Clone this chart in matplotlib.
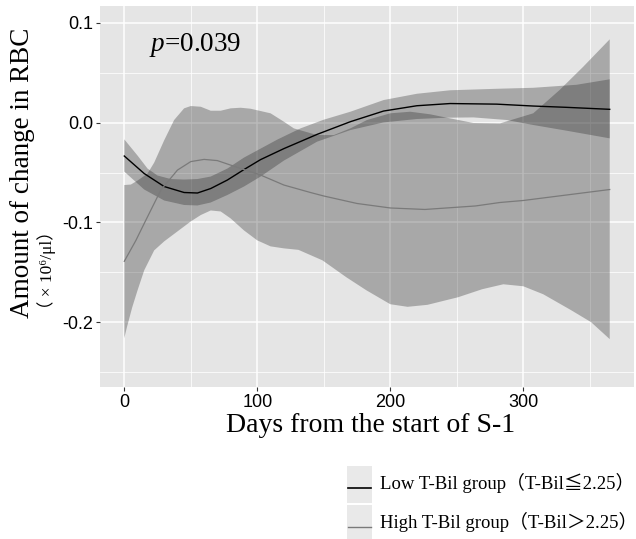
import matplotlib
matplotlib.use("Agg")
import matplotlib.pyplot as plt
import matplotlib.patches as patches
from matplotlib.lines import Line2D
import numpy as np

plt.rcParams['mathtext.fontset'] = 'custom'
plt.rcParams['mathtext.rm'] = 'Liberation Serif'
plt.rcParams['mathtext.it'] = 'Liberation Serif:italic'

SERIF = ['Liberation Serif', 'Noto Sans CJK JP', 'DejaVu Serif']
SANS = ['Liberation Sans', 'DejaVu Sans']

# 低T-Bil群 平滑曲线与置信带
low_days = [0, 15, 30, 45, 55, 65, 77.5, 90, 102.5, 120, 145, 170, 195, 220, 245, 280, 307.5, 332.5, 365]
low_mean = [-0.0334, -0.051, -0.064, -0.070, -0.0705, -0.066, -0.0575, -0.047, -0.037, -0.026,
            -0.0117, 0.001, 0.0117, 0.017, 0.0192, 0.0186, 0.0167, 0.0154, 0.0134]

low_up_days = [0, 10, 17.5, 25, 35, 45, 55, 65, 77.5, 90, 102.5, 115, 132.5, 150, 170, 195, 220, 245,
               280, 307.5, 340, 365]
low_up = [-0.0167, -0.033, -0.046, -0.053, -0.0565, -0.057, -0.0565, -0.054, -0.046, -0.035, -0.026,
          -0.017, -0.0057, 0.003, 0.011, 0.0227, 0.029, 0.0325, 0.034, 0.035, 0.038, 0.0435]

low_lo_days = [0, 15, 30, 45, 55, 65, 77.5, 90, 102.5, 120, 145, 170, 195, 220, 242.5, 262.5, 287.5,
               307.5, 332.5, 365]
low_lo = [-0.049, -0.067, -0.078, -0.0825, -0.083, -0.080, -0.0725, -0.064, -0.054, -0.038, -0.019,
          -0.0074, 0.0003, 0.0037, 0.005, 0.0053, 0.0027, -0.0023, -0.008, -0.0157]

# 高T-Bil群
high_days = [0, 8.75, 15, 27.5, 40, 50, 60, 70, 85, 102.5, 120, 140, 150, 175, 200, 226, 264, 282.5, 300, 365]
high_mean = [-0.139, -0.118, -0.101, -0.0675, -0.0475, -0.039, -0.0368, -0.038, -0.0448, -0.0525,
             -0.0625, -0.070, -0.0735, -0.081, -0.0855, -0.087, -0.0835, -0.080, -0.078, -0.067]

high_up_days = [0, 5, 10, 17.5, 22.5, 30, 37.5, 45, 50, 57.5, 65, 72.5, 80, 87.5, 95, 110, 120, 127.5,
                145, 157.5, 170, 182.5, 200, 215, 230, 242.5, 262.5, 282.5, 307.5, 327.5, 345, 365]
high_up = [-0.0625, -0.062, -0.058, -0.051, -0.040, -0.0177, 0.0027, 0.0144, 0.0167, 0.016, 0.012,
           0.012, 0.0144, 0.015, 0.014, 0.0094, 0.001, -0.0057, -0.0124, -0.0124, -0.0057, 0.0027,
           0.0094, 0.011, 0.0084, 0.005, -0.0003, -0.0007, 0.0094, 0.033, 0.056, 0.0836]

high_lo_days = [0, 2, 6, 10, 15, 22.5, 30, 40, 50, 57.5, 65, 72.5, 80, 90, 100, 110, 120, 131, 149, 167,
                182, 200, 213, 228, 251, 269, 285, 300, 315, 336, 351, 365]
high_lo = [-0.216, -0.205, -0.185, -0.168, -0.148, -0.128, -0.119, -0.109, -0.099, -0.0926, -0.088,
           -0.089, -0.096, -0.108, -0.118, -0.124, -0.126, -0.1275, -0.138, -0.155, -0.168, -0.182,
           -0.1846, -0.1826, -0.175, -0.167, -0.162, -0.164, -0.172, -0.188, -0.200, -0.217]

x_major = [0, 100, 200, 300]
x_minor = [50, 150, 250, 350]
y_major = [-0.2, -0.1, 0.0, 0.1]
y_minor = [-0.25, -0.15, -0.05, 0.05]
y_labels = ['-0.2', '-0.1', '0.0', '0.1']

legend_labels = ['Low T-Bil group（T-Bil≦2.25）', 'High T-Bil group（T-Bil＞2.25）']
line_colors = ['#000000', '#7a7a7a']

W, H = 636, 539
fig = plt.figure(figsize=(W / 100, H / 100), dpi=100)
ax = fig.add_axes([100 / W, 1 - 387 / H, 534 / W, 381 / H])
ax.set_facecolor('#e5e5e5')
for s in ax.spines.values():
    s.set_visible(False)

# 网格
ax.set_xticks(x_major)
ax.set_xticks(x_minor, minor=True)
ax.set_yticks(y_major)
ax.set_yticks(y_minor, minor=True)
ax.set_yticklabels(y_labels)
ax.grid(which='major', color='white', linewidth=1.1)
ax.grid(which='minor', color='white', linewidth=0.55)
ax.set_axisbelow(True)
ax.tick_params(which='major', length=3, width=0.8, color='#333333', labelsize=13, pad=2,
               labelcolor='black')
ax.tick_params(which='minor', length=0)
for lab in ax.get_xticklabels() + ax.get_yticklabels():
    lab.set_family(SANS)

# 置信带
band_color = '#1d1d1d'
ax.fill(np.concatenate([high_up_days, high_lo_days[::-1]]),
        np.concatenate([high_up, high_lo[::-1]]),
        color=band_color, alpha=0.3, linewidth=0)
ax.fill(np.concatenate([low_up_days, low_lo_days[::-1]]),
        np.concatenate([low_up, low_lo[::-1]]),
        color=band_color, alpha=0.3, linewidth=0)

# 平滑曲线
ax.plot(low_days, low_mean, color=line_colors[0], linewidth=1.0)
ax.plot(high_days, high_mean, color=line_colors[1], linewidth=0.9)

ax.set_xlim(-18.25, 383.25)
ax.set_ylim(-0.265, 0.117)

ax.text(18.5, 0.078, '$p$=0.039', family=SERIF, fontsize=19.5, ha='left', va='center')

# 坐标轴标题
fig.text(371 / W, 1 - 425 / H, 'Days from the start of S-1', family=SERIF, fontsize=20,
         ha='center', va='center')
fig.text(23 / W, 1 - 318 / H, 'Amount of change in RBC', family=SERIF, fontsize=19.5,
         rotation=90, ha='center', va='bottom')
fig.text(47 / W, 1 - 318 / H, '（ × 10⁶/μl）', family=SERIF, fontsize=12.5,
         rotation=90, rotation_mode='anchor', ha='left', va='center')

# 图例
key_tops = [466, 505]
for i, (lab, col) in enumerate(zip(legend_labels, line_colors)):
    top = key_tops[i]
    fig.patches.append(patches.Rectangle((347 / W, 1 - (top + 37) / H), 25 / W, 37 / H,
                                         transform=fig.transFigure, facecolor='#e9e9e9',
                                         edgecolor='none'))
    yline = 1 - (top + 22) / H
    fig.lines.append(Line2D([348 / W, 371 / W], [yline, yline], transform=fig.transFigure,
                            color=col, linewidth=1.2 if i == 0 else 1.0))
    fig.text(380 / W, 1 - (top + 17) / H, lab, family=SERIF, fontsize=13.5,
             ha='left', va='center')

fig.savefig('out.png', dpi=100)
